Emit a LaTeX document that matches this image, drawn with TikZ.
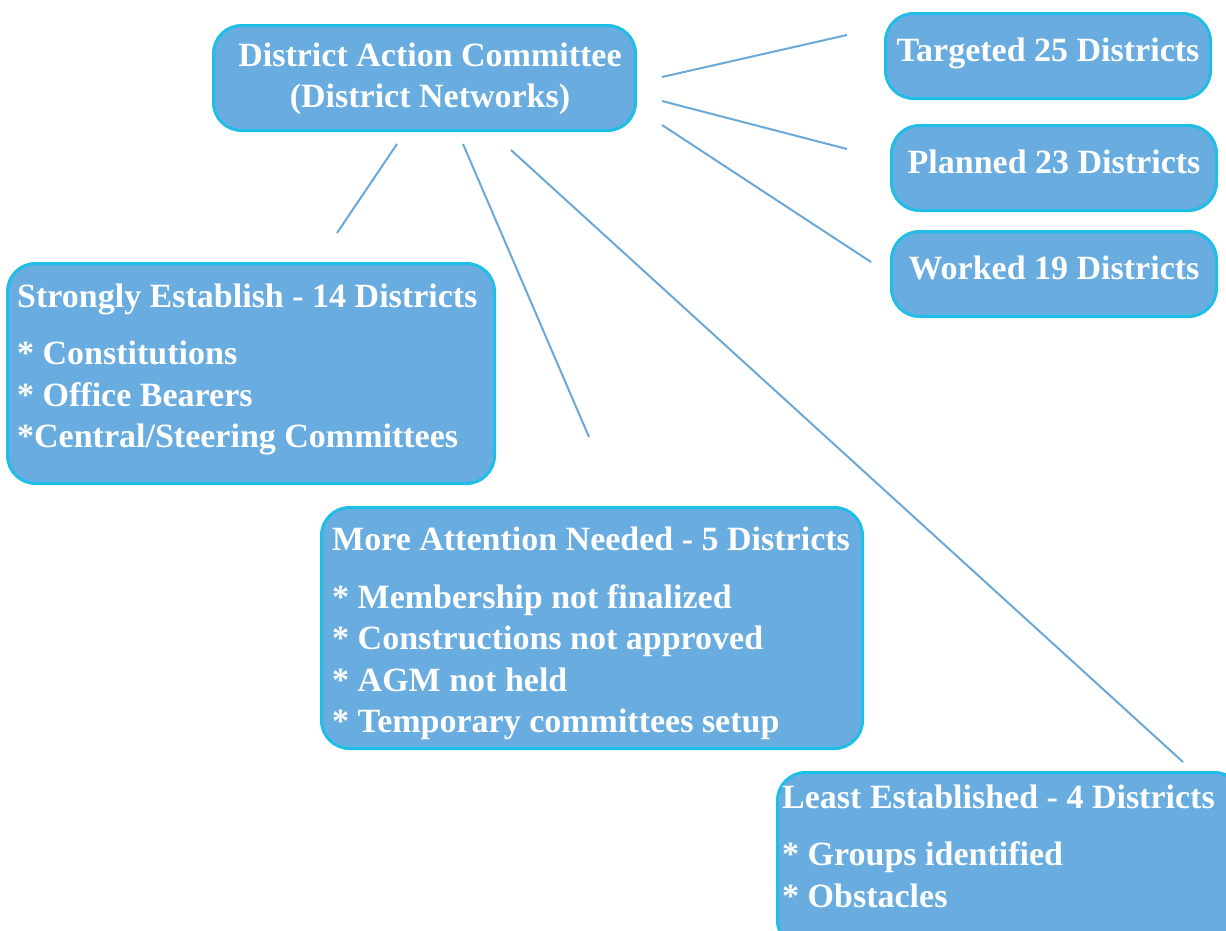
\documentclass[tikz,border=0pt]{standalone}
\usepackage{fontspec}
\setmainfont{Liberation Serif}
\definecolor{boxfill}{RGB}{104,172,224}
\definecolor{boxline}{RGB}{30,190,230}
\definecolor{linkline}{RGB}{106,168,216}
\tikzset{
  box/.style={draw=boxline, fill=boxfill, line width=3pt, rounded corners=28pt},
  txt/.style={text=white, inner sep=0pt, font=\bfseries\fontsize{34}{41.5}\selectfont},
  link/.style={draw=linkline, line width=2pt}
}
\begin{document}
\begin{tikzpicture}[x=1pt,y=-1pt]
\clip (0,0) rectangle (1226,930);
% boxes
\node[box, minimum width=422pt, minimum height=105pt] (dac) at (424.5,78) {};
\node[box, minimum width=325pt, minimum height=85pt] (targeted) at (1048,56) {};
\node[box, minimum width=325pt, minimum height=85pt] (planned) at (1054,168) {};
\node[box, minimum width=325pt, minimum height=85pt] (worked) at (1054,274) {};
\node[box, minimum width=487pt, minimum height=220pt] (strong) at (251,373.5) {};
\node[box, minimum width=541pt, minimum height=241pt] (more) at (592,628) {};
\node[box, minimum width=465pt, minimum height=176pt] (least) at (1010,860.5) {};
% texts
\node[txt, align=center] (dac-t) at (430,79) {District Action Committee\\(District Networks)};
\node[txt, anchor=base] (targeted-t) at (1048,61) {Targeted 25 Districts};
\node[txt, anchor=base] (planned-t) at (1054,173.5) {Planned 23 Districts};
\node[txt, anchor=base] (worked-t) at (1054,279) {Worked 19 Districts};
\node[txt, align=left, anchor=north west] (strong-t) at (17,283.5)
  {Strongly Establish - 14 Districts\\[16pt]
   * Constitutions\\
   * Office Bearers\\
   *Central/Steering Committees};
\node[txt, align=left, anchor=north west] (more-t) at (332,527)
  {More Attention Needed - 5 Districts\\[16pt]
   * Membership not finalized\\
   * Constructions not approved\\
   * AGM not held\\
   * Temporary committees setup};
\node[txt, align=left, anchor=north west] (least-t) at (782,784.5)
  {Least Established - 4 Districts\\[16pt]
   * Groups identified\\
   * Obstacles};
% links
\coordinate (dac-r1) at (662,77);
\coordinate (dac-r2) at (662,101);
\coordinate (dac-r3) at (662,125);
\coordinate (dac-b1) at (397,144);
\coordinate (dac-b2) at (463,144);
\coordinate (dac-b3) at (511,150);
\coordinate (targeted-l) at (847,35);
\coordinate (planned-l) at (847,149);
\coordinate (worked-l) at (871,262);
\coordinate (strong-u) at (337,233);
\coordinate (more-u) at (589,437);
\coordinate (least-u) at (1183,762);
\draw[link] (dac-r1) -- (targeted-l);
\draw[link] (dac-r2) -- (planned-l);
\draw[link] (dac-r3) -- (worked-l);
\draw[link] (dac-b1) -- (strong-u);
\draw[link] (dac-b2) -- (more-u);
\draw[link] (dac-b3) -- (least-u);
\end{tikzpicture}
\end{document}
